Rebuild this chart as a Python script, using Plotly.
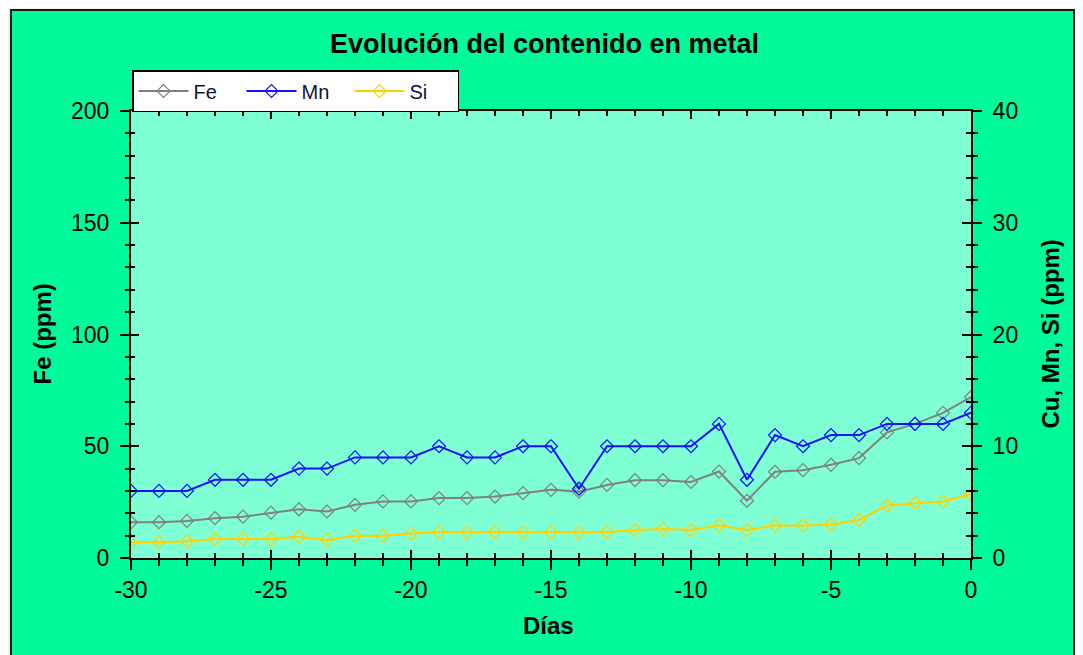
import plotly.graph_objects as go

days = list(range(-30, 1))
fe = [16, 16, 16.6, 17.8, 18.5, 20.3, 21.8, 20.8, 23.8, 25.3, 25.3, 26.8, 26.8, 27.5, 29, 30.5,
      29.7, 32.7, 34.8, 34.8, 34, 38.7, 25.6, 38.6, 39.3, 41.7, 44.7, 56.2, 60, 64.9, 72]
mn = [6, 6, 6, 7, 7, 7, 8, 8, 9, 9, 9, 10, 9, 9, 10, 10,
      6.2, 10, 10, 10, 10, 12, 7, 11, 10, 11, 11, 12, 12, 12, 13]
si = [1.4, 1.4, 1.5, 1.7, 1.7, 1.7, 1.9, 1.6, 2.0, 2.0, 2.2, 2.3, 2.3, 2.3, 2.3, 2.3,
      2.3, 2.3, 2.5, 2.6, 2.5, 2.9, 2.5, 2.9, 2.9, 3.0, 3.4, 4.7, 4.9, 5.05, 5.7]

x_tickvals = [-30, -25, -20, -15, -10, -5, 0]
x_ticktext = ["-30", "-25", "-20", "-15", "-10", "-5", "0"]

title = "Evolución del contenido en metal"
x_title = "Días"
y_left_title = "Fe (ppm)"
y_right_title = "Cu, Mn, Si (ppm)"

FONT = "Liberation Sans, Arial, sans-serif"
W, H = 1083, 655
L, R, T, B = 123, 120, 103, 105
PW, PH = W - L - R, H - T - B


def px_x(px):
    return (px - L) / PW


def px_y(py):
    return (H - B - py) / PH


fig = go.Figure()
fig.add_trace(go.Scatter(x=days, y=fe, name="Fe", mode="lines+markers",
                         line=dict(color="#808080", width=2),
                         marker=dict(symbol="diamond-open", size=10, color="#808080", line=dict(width=1.2)),
                         xaxis="x", yaxis="y"))
fig.add_trace(go.Scatter(x=days, y=mn, name="Mn", mode="lines+markers",
                         line=dict(color="#1010ff", width=2),
                         marker=dict(symbol="diamond-open", size=10, color="#1010ff", line=dict(width=1.2)),
                         xaxis="x", yaxis="y2"))
fig.add_trace(go.Scatter(x=days, y=si, name="Si", mode="lines+markers",
                         line=dict(color="#ffd000", width=2),
                         marker=dict(symbol="diamond-open", size=10, color="#ffd000", line=dict(width=1.2)),
                         xaxis="x", yaxis="y2"))
# empty helper traces so the overlay axes carrying the inner half of the ticks get drawn
fig.add_trace(go.Scatter(x=[], y=[], xaxis="x2", yaxis="y3", showlegend=False, hoverinfo="skip"))
fig.add_trace(go.Scatter(x=[], y=[], xaxis="x2", yaxis="y4", showlegend=False, hoverinfo="skip"))

tickfont = dict(family=FONT, size=23, color="black")
titlefont = dict(family=FONT, size=24, color="black", weight="bold")

shapes = [
    dict(type="rect", xref="paper", yref="paper", layer="below",
         x0=px_x(3), x1=px_x(1066), y0=px_y(680), y1=px_y(2),
         fillcolor="#00fa9a", line=dict(color="#1a1a1a", width=2)),
    dict(type="rect", xref="x domain", yref="y domain", layer="below",
         x0=0, x1=1, y0=0, y1=1, fillcolor="#7fffd4", line=dict(width=0)),
]

annotations = [
    dict(text=y_left_title, xref="paper", yref="paper", x=px_x(34), y=0.5, textangle=-90,
         showarrow=False, xanchor="center", yanchor="middle", font=titlefont),
    dict(text=y_right_title, xref="paper", yref="paper", x=px_x(1042), y=0.5, textangle=-90,
         showarrow=False, xanchor="center", yanchor="middle", font=titlefont),
    dict(text=x_title, xref="paper", yref="paper", x=px_x(540), y=px_y(617),
         showarrow=False, xanchor="center", yanchor="middle", font=titlefont),
]

fig.update_layout(
    width=W, height=H,
    margin=dict(l=L, r=R, t=T, b=B),
    paper_bgcolor="#f0f0f0",
    plot_bgcolor="rgba(0,0,0,0)",
    shapes=shapes,
    annotations=annotations,
    title=dict(text=title, xref="container", x=536.5 / W, yref="container", y=1 - 36 / H,
               xanchor="center", yanchor="middle",
               font=dict(family=FONT, size=27, color="black", weight="bold")),
    showlegend=True,
    legend=dict(orientation="h", x=px_x(124), y=px_y(62), xanchor="left", yanchor="top",
                bgcolor="white", bordercolor="black", borderwidth=1.5,
                font=dict(family=FONT, size=20, color="#10103a"),
                itemwidth=50, entrywidth=43, tracegroupgap=0),
    xaxis=dict(range=[-30, 0], tickvals=x_tickvals, ticktext=x_ticktext,
               showgrid=False, zeroline=False,
               showline=True, linecolor="black", linewidth=2,
               ticks="outside", ticklen=10, tickwidth=2, tickcolor="black",
               minor=dict(dtick=1, ticks="outside", ticklen=6, tickwidth=1.5, tickcolor="black"),
               tickfont=tickfont),
    xaxis2=dict(range=[-30, 0], overlaying="x", anchor="y", side="bottom",
                dtick=5, tick0=0, showgrid=False, zeroline=False,
                showline=True, linecolor="black", linewidth=2, mirror="ticks",
                ticks="inside", ticklen=8, tickwidth=2, tickcolor="black",
                minor=dict(dtick=1, ticks="inside", ticklen=5, tickwidth=1.5, tickcolor="black"),
                showticklabels=False),
    yaxis=dict(range=[0, 200], dtick=50, showgrid=False, zeroline=False,
               showline=True, linecolor="black", linewidth=2,
               ticks="outside", ticklen=9, tickwidth=2, tickcolor="black",
               minor=dict(dtick=10, ticks="outside", ticklen=4, tickwidth=1.5, tickcolor="black"),
               tickfont=tickfont, ticklabelstandoff=6),
    yaxis3=dict(range=[0, 200], overlaying="y", anchor="x", side="left",
                dtick=50, showgrid=False, zeroline=False, showline=False,
                ticks="inside", ticklen=8, tickwidth=2, tickcolor="black",
                minor=dict(dtick=10, ticks="inside", ticklen=4, tickwidth=1.5, tickcolor="black"),
                showticklabels=False),
    yaxis2=dict(range=[0, 40], dtick=10, overlaying="y", side="right", anchor="x",
                showgrid=False, zeroline=False,
                showline=True, linecolor="black", linewidth=2,
                ticks="outside", ticklen=9, tickwidth=2, tickcolor="black",
                minor=dict(dtick=2, ticks="outside", ticklen=5, tickwidth=1.5, tickcolor="black"),
                tickfont=tickfont, ticklabelstandoff=6),
    yaxis4=dict(range=[0, 40], overlaying="y", anchor="x", side="right",
                dtick=10, showgrid=False, zeroline=False, showline=False,
                ticks="inside", ticklen=9, tickwidth=2, tickcolor="black",
                minor=dict(dtick=2, ticks="inside", ticklen=5, tickwidth=1.5, tickcolor="black"),
                showticklabels=False),
)

fig.write_html("out.html")
